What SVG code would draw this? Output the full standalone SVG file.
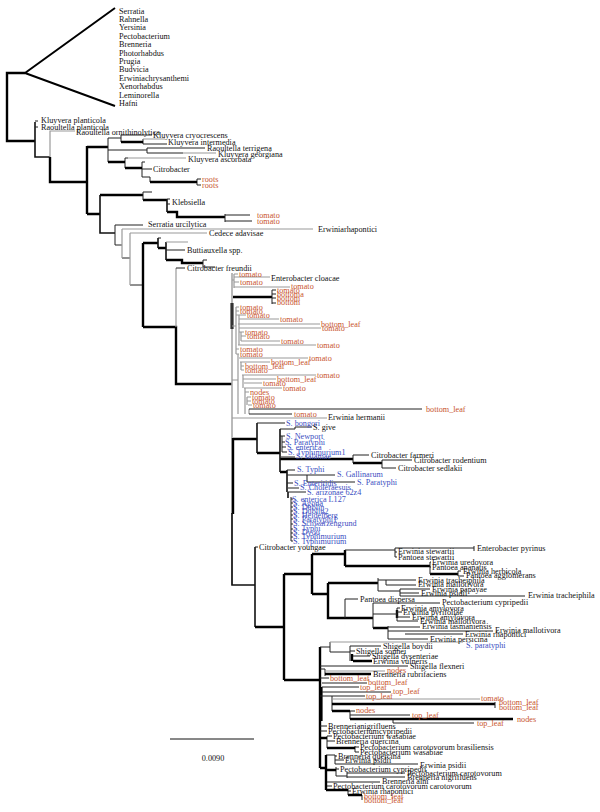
<svg xmlns="http://www.w3.org/2000/svg" width="600" height="812" viewBox="0 0 600 812">
<style>
text{font-family:"Liberation Serif","Times New Roman",serif;font-size:8.2px;fill:#111}
.r{fill:#c8552d}.b{fill:#3d4fc2}
.l{stroke:#222;stroke-width:1;fill:none}
.g{stroke:#9a9a9a;stroke-width:1.2;fill:none}
.m{stroke:#111;stroke-width:1.6;fill:none}
.k{stroke:#000;stroke-width:2.4;fill:none}
</style>
<rect width="600" height="812" fill="#fff"/>
<g id="collapsed-clade">
<path d="M25,73 L115,8 M25,73 L115,106" stroke="#000" stroke-width="2" fill="none"/>
<text x="119" y="13.5">Serratia</text><text x="119" y="21.9">Rahnella</text><text x="119" y="30.3">Yersinia</text><text x="119" y="38.7">Pectobacterium</text><text x="119" y="47.1">Brenneria</text><text x="119" y="55.5">Photorhabdus</text><text x="119" y="63.9">Prugia</text><text x="119" y="72.3">Budvicia</text><text x="119" y="80.7">Erwiniachrysanthemi</text><text x="119" y="89.1">Xenorhabdus</text><text x="119" y="97.5">Leminorella</text><text x="119" y="105.9">Hafni</text>
</g>
<g id="connectors">
<path class="k" d="M25,73 H7 V141 H35"/>
<path class="m" d="M35,122 V157 H50"/>
<path class="l" d="M35,121 H38 M35,127 H38"/>
<path class="g" d="M50,157 V131 H75"/>
<path class="k" d="M50,157 V182 H87 M87,146 V214 M87,147 H108"/>
<path class="l" d="M108,138 V162 M108,138 H121 M121,135 V142 M121,135 H152 M143,139 V144 M143,144 H167 M108,150 H147 M147,148 V153 M147,148 H205 M147,153 H183 M125,158 V168 M125,158 H128 M142,162 V177 M142,162 H145 M142,169 H152 M142,177 H150 V182 M197,179 V185 M197,179 H201 M197,185 H201"/>
<path class="g" d="M143,139 H165 M183,153 H216 M128,158 H186"/>
<path class="k" d="M121,142 H143 M108,162 H125 M125,168 H142 M150,182 H197"/>
<path class="k" d="M87,214 H100 M100,195 H143 M143,200 H167 M167,212 H177 V217 H225"/>
<path class="m" d="M100,195 V233 H115 M167,199 V212"/>
<path class="l" d="M143,192 V200 M143,192 H152 M167,199 H170 M167,204 H170 M225,214 V222 M225,215 H250 M225,221 H252"/>
<path class="l" d="M115,225 V245 M115,225 H143 M115,245 H122 M122,258 H130 M130,285 H143"/>
<path class="g" d="M122,229 V258 M122,229 H313 M130,233 V285 M130,233 H207"/>
<path class="k" d="M143,243 V327 M143,243 H158 M158,248 H166 M166,260 H182 V263 H203 M143,327 H176 V384 H232"/>
<path class="m" d="M158,238 V248 M166,242 V260"/>
<path class="l" d="M158,238 H161 M166,250 H185 M203,260 V267 M203,260 H207 M203,267 H215"/>
<path class="g" d="M166,242 H188 M176,268 V327"/>
<path class="l" d="M176,268 H185"/>
<path d="M232,273 V585" stroke="#a8a8a8" stroke-width="1.6" fill="none"/>
<path d="M232,303 V329" stroke="#333" stroke-width="3.2" fill="none"/>
<path class="k" d="M233,438 V514"/>
<path class="m" d="M232,513 V585 H255"/>
<path class="g" d="M232,280 H234 M234,274 V288 M234,274 H238 M234,277 H270 M234,282 H239 M234,287 H290"/>
<path class="k" d="M233,297 H272"/>
<path class="l" d="M272,290 V304 M272,290 H276 M272,294 H276 M272,298 H276 M272,303 H276"/>
<path class="g" d="M232,326 H236 M236,307 V354 M236,307 H239 M236,311 H239 M236,315 H246 M239,315 V345 M239,319 H279 M238,324 H320 M239,328 H321 M239,332 H244 M241,332 V341 M241,336 H246 M241,341 H280 M238,345 H316 M236,349 H239 M236,354 H239"/>
<path class="g" d="M232,380 H238 M238,354 V414 M239,358 H308 M240,362 H270 M241,362 V370 M241,366 H244 M241,370 H244 M242,375 H316 M243,375 V388 M243,379 H276 M244,383 H262 M244,388 H282 M245,388 V414 M245,392 H249 M247,397 H251 M247,397 V405 M247,401 H251 M248,405 H252 M249,409 V414"/>
<path class="l" d="M249,409 H422 M249,414 H292"/>
<path class="g" d="M232,418 H327"/>
<path class="k" d="M233,439 H257 M257,453 H280 M280,459 H353 M353,463 H382 M280,472 H287"/>
<path class="m" d="M257,423 V453 M280,429 V472 M287,470 V492 M288,492 V498"/>
<path class="l" d="M257,423 H285 M280,429 H295 V427 H312 M280,436 H285 M282,436 V452 M282,442 H285 M282,447 H286 M282,452 H287 M281,457 H295 M353,455 V463 M353,455 H369 M382,460 V468 M382,460 H412 M382,468 H396 M287,470 H295 M287,475 H307 M307,475 V482 M307,475 H335 M307,482 H355 M287,483 H293 M288,488 H299 M288,492 H306 M291,497 V541"/>
<path class="l" d="M291,499 H293 M291,503 H293 M291,507 H293 M291,511 H293 M291,515 H293 M291,519 H293 M291,524 H293 M291,529 H293 M291,533 H293 M291,537 H293 M291,541 H293"/>
<path class="m" d="M255,547 V627"/>
<path class="l" d="M255,547 H258"/>
<path class="k" d="M255,627 H284 M284,574 V680 M284,574 H312 M312,554 V594 M312,554 H345 M345,550 V566 M345,566 H430 M430,574 H458 M312,594 H328 M328,583 H378 M328,583 V618 H345 M345,618 H373 M373,628 H388 M397,610 V618"/>
<path class="l" d="M345,550 H395 M395,548 V557 M395,548 H474 M474,546 V551 M395,552 H397 M395,557 H397 M430,562 V574 M430,562 H431 M430,567 H431 M458,571 V576 M458,571 H461 M458,576 H464 M378,578 V591 M378,580 H386 M386,580 V585 M386,580 H416 M386,585 H416 M378,591 H400 M400,589 V596 M400,589 H430 M400,593 H419 M400,596 H525 M345,599 H358 M345,599 V618 M373,603 V628 M373,603 H440 M373,614 H397 M397,608 V621 M397,608 H400 M397,612 H402 M397,617 H410 M397,621 H418 M388,626 V639 M388,627 H420 M388,631 H493 M405,634 H463 M388,639 H428"/>
<path class="k" d="M284,680 H320 M320,647 V768"/>
<path d="M321,687 V721" stroke="#000" stroke-width="3.2" fill="none"/>
<path class="l" d="M320,647 H330 M330,642 V652 M330,652 H350 M350,646 V661 M350,646 H381 M350,651 H355 M353,656 H370 M320,666 H408 M320,669 H325 M325,669 V676 M320,678 H329 M322,683 H367 M322,687 H359 M322,692 H391 M320,696 H332 M332,696 V711 M332,696 H365 M350,711 V719 M350,711 H355 M350,715 H410 M393,719 V723 M393,723 H474"/>
<path class="g" d="M330,642 H463 M325,671 H385 M332,699 H480"/>
<path class="k" d="M352,654 V661 M353,661 H372 M325,674 H371 M332,704 H495 M332,711 H350 M350,719 H513"/>
<path class="l" d="M495,702 V708"/>
<path class="l" d="M320,726 H327 M320,731 H327 M327,736 V748 M327,736 H332 M327,741 H335 M355,746 V752 M355,747 H359 M355,752 H359 M326,755 H335 M335,755 V764 M335,756 H337 M335,760 H344 M335,764 H418 M336,767 V776 M336,769 H339 M336,776 H347 M347,772 V778 M347,773 H405 M347,777 H405 M326,782 H380 M326,786 H332 M348,789 V795 M348,791 H351 M362,795 V800"/>
<path class="k" d="M320,738 H327 M327,748 H355 M320,768 H326 M326,755 V790 M326,770 H336 M326,790 H348 M348,795 H362"/>
<path d="M170,739 H254" stroke="#111" stroke-width="1" fill="none"/>
</g>
<g id="upper-labels">
<text x="41" y="122.5">Kluyvera planticola</text>
<text x="41" y="129.5">Raoultella planticola</text>
<text x="76" y="134.5">Raoultella ornithinolytica</text>
<text x="153" y="137.5">Kluyvera cryocrescens</text>
<text x="168" y="145">Kluyvera intermedia</text>
<text x="207" y="150.5">Raoultella terrigena</text>
<text x="218" y="156.5">Kluyvera georgiana</text>
<text x="188" y="162">Kluyvera ascorbata</text>
<text x="153" y="171.5">Citrobacter</text>
<text class="r" x="202" y="182">roots</text><text class="r" x="202" y="188">roots</text>
<text x="172" y="205">Klebsiella</text>
<text class="r" x="257" y="218">tomato</text><text class="r" x="257" y="224">tomato</text>
<text x="148" y="227">Serratia urcilytica</text>
<text x="318" y="232">Erwiniarhapontici</text>
<text x="209" y="236">Cedece adavisae</text>
<text x="187" y="253">Buttiauxella spp.</text>
<text x="187" y="270.5">Citrobacter freundii</text>
</g>
<g id="tomato-cluster">
<text class="r" x="239" y="276.5">tomato</text>
<text x="271" y="280.5">Enterobacter cloacae</text>
<text class="r" x="240" y="284.5">tomato</text>
<text class="r" x="291" y="289">tomato</text>
<text class="r" x="277" y="292.5">tomato</text><text class="r" x="277" y="296.5">bottoma</text><text class="r" x="277" y="300.5">bottom</text><text class="r" x="277" y="305">bottom</text>
<text class="r" x="240" y="309.5">tomato</text><text class="r" x="240" y="313.5">tomato</text><text class="r" x="247" y="317.5">tomato</text><text class="r" x="280" y="321.5">tomato</text>
<text class="r" x="321" y="326.5">bottom_leaf</text><text class="r" x="322" y="330.5">tomato</text>
<text class="r" x="245" y="334.5">tomato</text><text class="r" x="247" y="338.5">tomato</text><text class="r" x="281" y="343.5">tomato</text><text class="r" x="317" y="347.5">tomato</text>
<text class="r" x="240" y="351.5">tomato</text><text class="r" x="240" y="356.5">tomato</text><text class="r" x="309" y="360.5">tomato</text>
<text class="r" x="271" y="364.5">bottom_leaf</text><text class="r" x="245" y="368.5">bottom_leaf</text><text class="r" x="245" y="372.5">tomato</text><text class="r" x="317" y="377.5">tomato</text>
<text class="r" x="277" y="381.5">bottom_leaf</text><text class="r" x="263" y="385.5">tomato</text><text class="r" x="283" y="390.5">tomato</text>
<text class="r" x="250" y="394.5">nodes</text><text class="r" x="252" y="399.5">tomato</text><text class="r" x="252" y="403.5">tomato</text><text class="r" x="253" y="407.5">tomato</text>
<text class="r" x="426" y="411.5">bottom_leaf</text><text class="r" x="294" y="416.5">tomato</text>
<text x="328" y="420">Erwinia hermanii</text>
</g>
<g id="salmonella-clade">
<text class="b" x="286" y="425.5">S. bongori</text>
<text x="313" y="430">S. give</text>
<text class="b" x="286" y="438.5">S. Newport</text>
<text class="b" x="285" y="444.5">S. Paratyphi</text>
<text class="b" x="287" y="449.5">S. enterica</text>
<text class="b" x="288" y="454.5">S. Typhimurium1</text>
<text class="b" x="296" y="459">S. salamae</text>
<text x="371" y="457.5">Citrobacter farmeri</text>
<text x="414" y="463">Citrobacter rodentium</text>
<text x="398" y="470.5">Citrobacter sedlakii</text>
<text class="b" x="297" y="472">S. Typhi</text>
<text class="b" x="337" y="476.5">S. Gallinarum</text>
<text class="b" x="294" y="485.5">S. Enteritidis</text>
<text class="b" x="357" y="484.5">S. Paratyphi</text>
<text class="b" x="300" y="490">S. Choleraesuis</text>
<text class="b" x="307" y="495">S. arizonae 62z4</text>
<text class="b" x="292" y="501.5">S. enterica L127</text>
<text class="b" x="293" y="505.5">S. Agona</text>
<text class="b" x="293" y="509.5">S. Dublin</text>
<text class="b" x="293" y="513.5">S. Dublin2</text>
<text class="b" x="293" y="517.5">S. Heidelberg</text>
<text class="b" x="293" y="521.5">S. Paratyphi1</text>
<text class="b" x="293" y="526">S. Schwarzengrund</text>
<text class="b" x="293" y="530.5">S. Typhi</text>
<text class="b" x="293" y="535">S. Dyou</text>
<text class="b" x="293" y="539">S. Typhimurium</text>
<text class="b" x="293" y="543.5">S. Typhimurium</text>
<text x="259" y="549.5">Citrobacter youngae</text>
</g>
<g id="erwinia-clade">
<text x="398" y="554">Erwinia stewartii</text>
<text x="477" y="550.5">Enterobacter pyrinus</text>
<text x="398" y="559.5">Pantoea stewartii</text>
<text x="432" y="564.5">Erwinia uredovora</text>
<text x="432" y="569.5">Pantoea ananatis</text>
<text x="463" y="573.5">Erwinia herbicola</text>
<text x="466" y="578">Pantoea agglomerans</text>
<text x="418" y="582.5">Erwinia tracheiphila</text>
<text x="418" y="587">Erwinia mallotivora</text>
<text x="432" y="591.5">Erwinia papayae</text>
<text x="421" y="595.5">Erwinia psidii</text>
<text x="528" y="598">Erwinia tracheiphila</text>
<text x="360" y="601.5">Pantoea dispersa</text>
<text x="442" y="605">Pectobacterium cypripedii</text>
<text x="401" y="610.5">Erwinia amylovora</text>
<text x="403" y="614.5">Erwinia pyrifoliae</text>
<text x="412" y="619.5">Erwinia amylovora</text>
<text x="420" y="624">Erwinia mallotivora</text>
<text x="422" y="629">Erwinia tasmaniensis</text>
<text x="495" y="632.5">Erwinia mallotivora</text>
<text x="465" y="636.5">Erwinia rhapontici</text>
<text x="430" y="641.5">Erwinia persicina</text>
</g>
<g id="lower-clade">
<text class="b" x="466" y="647.5">S. paratyphi</text>
<text x="383" y="648.5">Shigella boydii</text>
<text x="356" y="653.5">Shigella sonnei</text>
<text x="372" y="658.5">Shigella dysenteriae</text>
<text x="373" y="663.5">Erwinia vulneris</text>
<text x="410" y="668.5">Shigella flexneri</text>
<text class="r" x="387" y="673">nodes</text>
<text x="373" y="676.5">Brenneria rubrifaciens</text>
<text class="r" x="330" y="680.5">bottom_leaf</text>
<text class="r" x="368" y="685">bottom_leaf</text>
<text class="r" x="360" y="689.5">top_leaf</text>
<text class="r" x="393" y="694">top_leaf</text>
<text class="r" x="366" y="698.5">top_leaf</text>
<text class="r" x="481" y="700.5">tomato</text>
<text class="r" x="499" y="705">bottom_leaf</text>
<text class="r" x="499" y="709.5">bottom_leaf</text>
<text class="r" x="356" y="713">nodes</text>
<text class="r" x="412" y="717.5">top_leaf</text>
<text class="r" x="517" y="722">nodes</text>
<text class="r" x="477" y="725.5">top_leaf</text>
<text x="328" y="728.5">Brennerianigrifluens</text>
<text x="328" y="733.5">Pectobacteriumcypripedii</text>
<text x="333" y="738.5">Pectobacterium wasabiae</text>
<text x="336" y="743.5">Brenneria quercina</text>
<text x="360" y="749.5">Pectobacterium carotovorum brasiliensis</text>
<text x="360" y="754.5">Pectobacterium wasabiae</text>
<text x="338" y="758.5">Brenneria quercina</text>
<text x="345" y="762.5">Erwinia psidii</text>
<text x="420" y="767.5">Erwinia psidii</text>
<text x="340" y="771.5">Pectobacterium cypripedii</text>
<text x="407" y="775.5">Pectobacterium carotovorum</text>
<text x="407" y="779.5">Brenneria nigrifluens</text>
<text x="382" y="784">Brenneria alni</text>
<text x="333" y="788.5">Pectobacterium carotovorum carotovorum</text>
<text x="352" y="793.5">Erwinia rhapontici</text>
<text class="r" x="364" y="798.5">bottom_leaf</text>
<text class="r" x="364" y="802.5">bottom_leaf</text>
</g>
<g id="scale-bar">
<text x="213" y="761" text-anchor="middle">0.0090</text>
</g>
</svg>
